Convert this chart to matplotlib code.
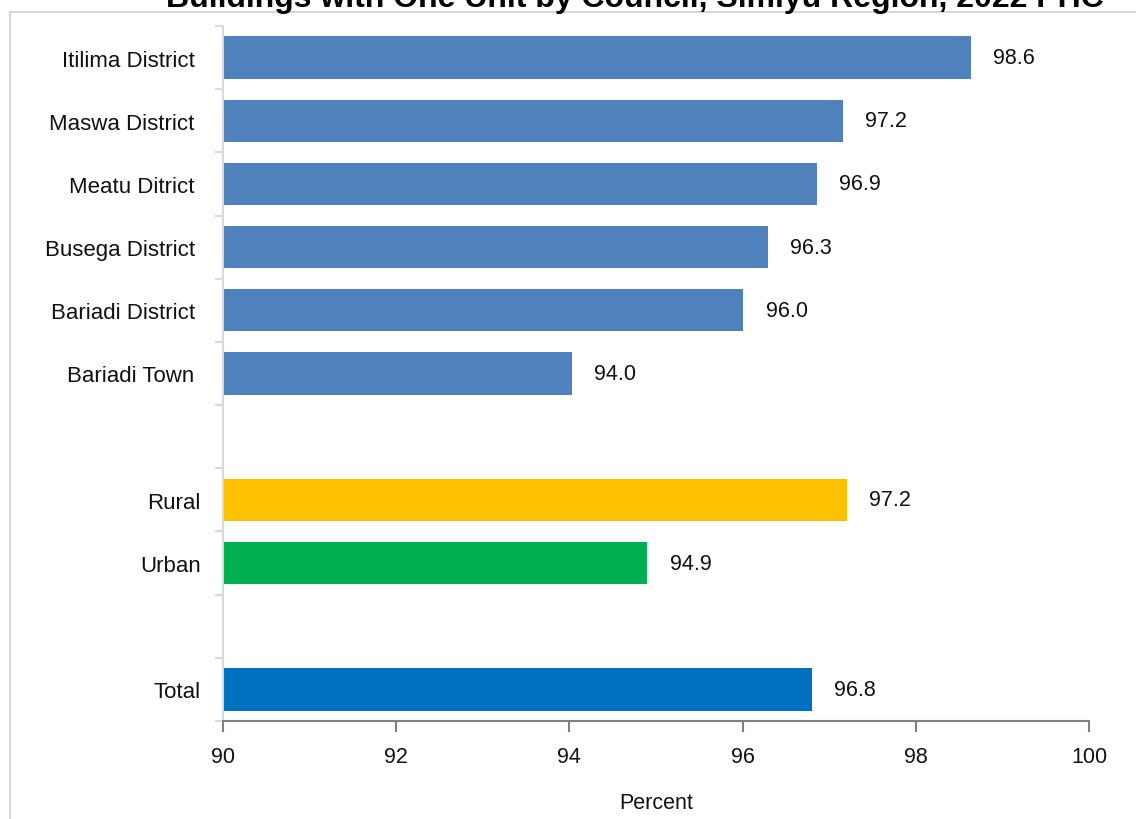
import matplotlib
matplotlib.use('agg')
import numpy as np
import matplotlib.pyplot as plt
from matplotlib.patches import Rectangle

plt.rcParams['font.family'] = ['Liberation Sans', 'DejaVu Sans']

# categories from top to bottom, '' marks an empty slot
categories = ['Itilima District ', 'Maswa District ', 'Meatu Ditrict ', 'Busega District ',
              'Bariadi District ', 'Bariadi Town ', '', 'Rural', 'Urban', '', 'Total']
values = [98.64, 97.16, 96.86, 96.29, 96.01, 94.03, None, 97.2, 94.9, None, 96.8]
colors = ['#4F81BD'] * 6 + [None] + ['#FFC000', '#00B050'] + [None] + ['#0070C0']
title = 'Buildings with One Unit by Council, Simiyu Region, 2022 PHC'


def main():
    fig = plt.figure(figsize=(11.36, 8.2), dpi=100)
    W, H = 1136.0, 820.0
    ax = fig.add_axes([223 / W, 1 - 722 / H, (1089 - 223) / W, (722 - 27) / H])

    n = len(categories)
    ypos = np.arange(n)
    for y, v, c in zip(ypos, values, colors):
        if v is None:
            continue
        ax.barh(y, v - 90, left=90, height=0.67, color=c)
        ax.annotate('%.1f' % v, xy=(v, y), xytext=(16, 0), textcoords='offset points',
                    ha='left', va='center', fontsize=15.5, color='#111111')

    ax.set_xlim(90, 100)
    ax.set_ylim(n - 0.5, -0.5)
    ax.set_xticks(np.arange(90, 101, 2))
    ax.tick_params(axis='x', direction='out', length=8, width=1.5, color='#808080',
                   labelsize=15.5, pad=10, labelcolor='#111111')

    # major ticks at the category boundaries, labels on minor ticks
    ax.set_yticks(np.arange(n + 1) - 0.5)
    ax.set_yticklabels([])
    ax.set_yticks(ypos, minor=True)
    ax.set_yticklabels(categories, minor=True)
    ax.tick_params(axis='y', which='major', direction='out', length=6, width=1.5, color='#d9d9d9')
    ax.tick_params(axis='y', which='minor', length=0, pad=16, labelsize=16, labelcolor='#111111')

    for s in ['top', 'right']:
        ax.spines[s].set_visible(False)
    ax.spines['bottom'].set_color('#808080')
    ax.spines['bottom'].set_linewidth(1.5)
    ax.spines['left'].set_color('#d9d9d9')
    ax.spines['left'].set_linewidth(1.5)

    ax.set_xlabel('Percent', fontsize=15.5, labelpad=18, color='#111111')

    # outer chart frame
    fig.patches.append(Rectangle((10 / W, -0.1), 1.2, 1 - 12.5 / H + 0.1, transform=fig.transFigure,
                                 fill=False, edgecolor='#d0d0d0', linewidth=1.2))

    fig.text(635 / W, 1 - 7 / H, title, ha='center', va='baseline',
             fontsize=23, fontweight='bold', color='black')

    fig.savefig('out.png', dpi=100)
    plt.close('all')


main()
